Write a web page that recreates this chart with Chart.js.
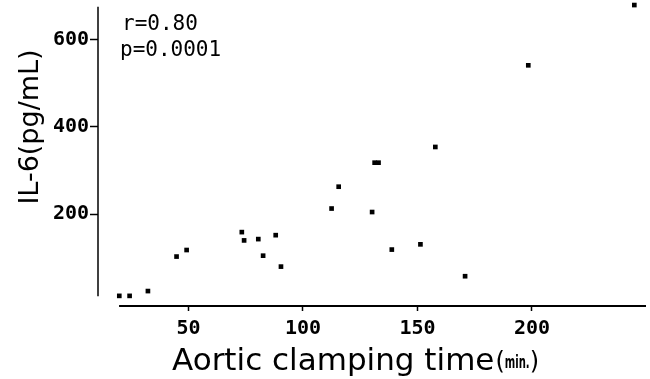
<!DOCTYPE html>
<html>
<head>
<meta charset="utf-8">
<script src="https://cdn.jsdelivr.net/npm/chart.js@4"></script>
<style>
  body { margin: 0; background: #fff; }
  #wrap { width: 650px; height: 379px; }
</style>
</head>
<body>
<div id="wrap"><canvas id="chart"></canvas></div>
<script>
// values
const clampTime = [19.8, 24.3, 32.3, 44.8, 49.2, 73.3, 74.3, 80.5, 82.6, 88.1, 90.4,
                   112.5, 115.6, 130.2, 131.3, 133.0, 138.8, 151.3, 157.8, 170.8, 198.4, 244.7];
const il6 = [13, 13, 24, 103, 118, 159, 140, 143, 105, 152, 80,
             213, 263, 205, 318, 318, 119, 131, 354, 58, 541, 679];
const xTicks = [50, 100, 150, 200];
const yTicks = [200, 400, 600];
const statLines = ["r=0.80", "p=0.0001"];

const points = clampTime.map((t, i) => ({ x: t, y: il6[i] }));

const extras = {
    id: 'extras',
    afterDraw(chart) {
        const ctx = chart.ctx;
        const x = chart.scales.x, y = chart.scales.y;
        const left = chart.chartArea.left;
        ctx.save();
        ctx.strokeStyle = '#000';
        ctx.fillStyle = '#000';

        // offset axis lines
        ctx.lineWidth = 1.5;
        ctx.beginPath();
        ctx.moveTo(left, y.getPixelForValue(12));
        ctx.lineTo(left, y.getPixelForValue(675));
        ctx.stroke();
        ctx.lineWidth = 2;
        ctx.beginPath();
        ctx.moveTo(x.getPixelForValue(19.7), chart.chartArea.bottom);
        ctx.lineTo(chart.chartArea.right, chart.chartArea.bottom);
        ctx.stroke();

        // r / p annotation
        ctx.font = '21px "DejaVu Sans Mono"';
        ctx.textAlign = 'left';
        ctx.textBaseline = 'alphabetic';
        ctx.fillText(statLines[0], 122, 30);
        ctx.fillText(statLines[1], 120, 56);

        // x title, "(min.)" in a smaller, narrow face
        ctx.font = '31px "DejaVu Sans"';
        let px = 172;
        const base = 370;
        ctx.fillText('Aortic clamping time', px, base);
        px += ctx.measureText('Aortic clamping time').width + 1;
        ctx.font = '24px "DejaVu Sans"';
        ctx.fillText('(', px, base - 1);
        px += ctx.measureText('(').width;
        ctx.font = 'bold 18px "DejaVu Sans Condensed"';
        const w = ctx.measureText('min.').width * 0.62;
        ctx.save();
        ctx.translate(px, base - 2);
        ctx.scale(0.62, 1);
        ctx.fillText('min.', 0, 0);
        ctx.restore();
        px += w;
        ctx.font = '24px "DejaVu Sans"';
        ctx.fillText(')', px, base - 1);

        // y title
        ctx.translate(38, 127);
        ctx.rotate(-Math.PI / 2);
        ctx.textAlign = 'center';
        ctx.font = '27px "DejaVu Sans"';
        ctx.fillText('IL-6(pg/mL)', 0, 0);
        ctx.restore();
    }
};

const tickFont = { family: 'DejaVu Sans Mono', size: 20, weight: 'bold' };

new Chart(document.getElementById('chart'), {
    type: 'scatter',
    data: {
        datasets: [{
            data: points,
            pointStyle: 'rect',
            pointRadius: 3.3,
            pointBorderWidth: 0,
            backgroundColor: '#000',
            borderColor: '#000',
            clip: false
        }]
    },
    options: {
        responsive: true,
        maintainAspectRatio: false,
        animation: false,
        layout: { padding: 0 },
        plugins: {
            legend: { display: false },
            tooltip: { enabled: false }
        },
        scales: {
            x: {
                type: 'linear',
                min: 10.5,
                max: 249.8,
                afterBuildTicks: s => { s.ticks = xTicks.map(v => ({ value: v })); },
                afterFit: s => { s.height = 73; s.paddingLeft = 0; s.paddingRight = 0; },
                border: { display: false },
                grid: { drawOnChartArea: false, tickLength: 5, tickColor: '#000', tickWidth: 1.5 },
                ticks: { color: '#000', font: tickFont, padding: 6, maxRotation: 0 }
            },
            y: {
                type: 'linear',
                min: -10.2,
                max: 681.4,
                afterBuildTicks: s => { s.ticks = yTicks.map(v => ({ value: v })); },
                afterFit: s => { s.width = 98; s.paddingTop = 0; s.paddingBottom = 0; },
                border: { display: false },
                grid: { drawOnChartArea: false, tickLength: 8, tickColor: '#000', tickWidth: 1.5 },
                ticks: { color: '#000', font: tickFont, padding: 1 }
            }
        }
    },
    plugins: [extras]
});
</script>
</body>
</html>
